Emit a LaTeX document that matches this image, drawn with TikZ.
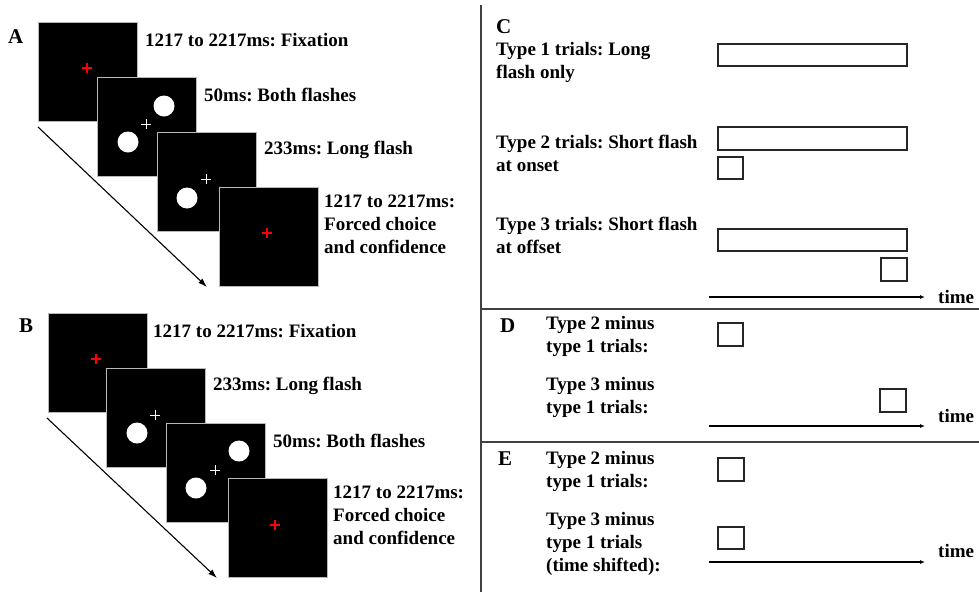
\documentclass[tikz,border=0pt]{standalone}
\usepackage{fontspec}
\setmainfont{Liberation Serif}
\usetikzlibrary{arrows.meta}
\begin{document}
\frenchspacing
\begin{tikzpicture}[x=1pt,y=-1pt,
  scr/.style={fill=black, draw=gray!55, line width=0.8pt, minimum size=99pt, inner sep=0pt},
  lbl/.style={font=\bfseries\fontsize{19}{23}\selectfont, inner sep=0pt, anchor=west, align=left},
  panel/.style={font=\bfseries\fontsize{21}{24}\selectfont, inner sep=0pt, anchor=west},
  rcross/.style={red, line width=1.1pt},
  wcross/.style={white, line width=1pt},
  dot/.style={fill=white, draw=none},
  bar/.style={draw=black!85, line width=1.6pt, inner sep=0pt, fill=white},
  seq/.style={line width=1.1pt, -{Latex[length=9pt,width=6pt]}},
  tarr/.style={line width=1.1pt, -{Latex[length=5pt,width=4pt]}},
  sep/.style={draw=black!75, line width=1.5pt}]
\useasboundingbox (0,0) rectangle (979,592);
\fill[white] (0,0) rectangle (979,592);

% ---------------- Panel A ----------------
\node[panel] (A) at (8,37) {A};
\coordinate (aS) at (38,127);
\coordinate (aE) at (207,287);
\draw[seq] (aS) -- (aE);

\node[scr] (a1) at (88,72) {};
\draw[rcross] (82,68) -- (92,68) (87,63) -- (87,73);
\node[scr] (a2) at (147,127) {};
\fill[dot] (164,106) circle (10.5);
\fill[dot] (128,142) circle (10.5);
\draw[wcross] (141,124) -- (151,124) (146,119) -- (146,129);
\node[scr] (a3) at (207,182) {};
\fill[dot] (187,198) circle (10.5);
\draw[wcross] (201,179) -- (211,179) (206,174) -- (206,184);
\node[scr] (a4) at (269,237) {};
\draw[rcross] (262,233) -- (272,233) (267,228) -- (267,238);

\node[lbl] (at1) at (145,40) {1217 to 2217ms: Fixation};
\node[lbl] (at2) at (204,95) {50ms: Both flashes};
\node[lbl] (at3) at (264,150) {233ms: Long flash};
\node[lbl] (at4) at (324,224) {1217 to 2217ms:\\Forced choice\\and confidence};

% ---------------- Panel B ----------------
\node[panel] (B) at (19,326) {B};
\coordinate (bS) at (47,418);
\coordinate (bE) at (217,578);
\draw[seq] (bS) -- (bE);

\node[scr] (b1) at (98,363) {};
\draw[rcross] (91,359) -- (101,359) (96,354) -- (96,364);
\node[scr] (b2) at (156,418) {};
\fill[dot] (137,433) circle (10.5);
\draw[wcross] (150,415) -- (160,415) (155,410) -- (155,420);
\node[scr] (b3) at (216,473) {};
\fill[dot] (239,451) circle (10.5);
\fill[dot] (196,488) circle (10.5);
\draw[wcross] (210,470) -- (220,470) (215,465) -- (215,475);
\node[scr] (b4) at (278,528) {};
\draw[rcross] (270,525) -- (280,525) (275,520) -- (275,530);

\node[lbl] (bt1) at (153,331) {1217 to 2217ms: Fixation};
\node[lbl] (bt2) at (213,386) {233ms: Long flash};
\node[lbl] (bt3) at (273,441) {50ms: Both flashes};
\node[lbl] (bt4) at (333,515) {1217 to 2217ms:\\Forced choice\\and confidence};

% ---------------- separators ----------------
\draw[sep] (481,5) -- (481,592);
\draw[sep] (481,309) -- (979,309);
\draw[sep] (481,442) -- (979,442);

% ---------------- Panel C ----------------
\node[panel] (C) at (496,27) {C};
\node[lbl] (ct1) at (496,62) {Type 1 trials: Long\\flash only};
\node[lbl] (ct2) at (496,153) {Type 2 trials: Short flash\\at onset};
\node[lbl] (ct3) at (496,235) {Type 3 trials: Short flash\\at offset};

\node[bar, minimum width=189pt, minimum height=22pt] (c1) at (812.5,55) {};
\node[bar, minimum width=189pt, minimum height=23pt] (c2) at (812.5,138.5) {};
\node[bar, minimum width=25pt, minimum height=22pt] (c2s) at (730.5,168) {};
\node[bar, minimum width=189pt, minimum height=22pt] (c3) at (812.5,240) {};
\node[bar, minimum width=26pt, minimum height=23pt] (c3s) at (894,269.5) {};

\coordinate (cS) at (709,297);
\coordinate (cE) at (925,297);
\draw[tarr] (cS) -- (cE);
\node[lbl] (ctime) at (938,297) {time};

% ---------------- Panel D ----------------
\node[panel] (D) at (500,326) {D};
\node[lbl] (dt1) at (546,336) {Type 2 minus\\type 1 trials:};
\node[lbl] (dt2) at (546,397) {Type 3 minus\\type 1 trials:};
\node[bar, minimum width=25pt, minimum height=23pt] (d1) at (730.5,334.5) {};
\node[bar, minimum width=26pt, minimum height=23pt] (d2) at (893,400.5) {};
\coordinate (dS) at (709,426);
\coordinate (dE) at (925,426);
\draw[tarr] (dS) -- (dE);
\node[lbl] (dtime) at (938,416) {time};

% ---------------- Panel E ----------------
\node[panel] (E) at (498,459) {E};
\node[lbl] (et1) at (546,471) {Type 2 minus\\type 1 trials:};
\node[lbl] (et2) at (546,544) {Type 3 minus\\type 1 trials\\(time shifted):};
\node[bar, minimum width=26pt, minimum height=23pt] (e1) at (731,469.5) {};
\node[bar, minimum width=26pt, minimum height=22pt] (e2) at (731,538) {};
\coordinate (eS) at (709,562);
\coordinate (eE) at (925,562);
\draw[tarr] (eS) -- (eE);
\node[lbl] (etime) at (938,551) {time};
\end{tikzpicture}
\end{document}
